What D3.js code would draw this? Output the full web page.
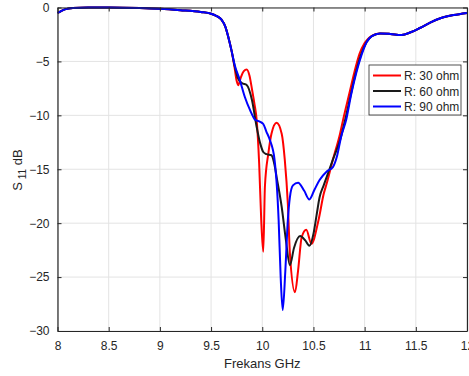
<!DOCTYPE html>
<html>
<head>
<meta charset="utf-8">
<script src="https://cdn.jsdelivr.net/npm/d3@7"></script>
<style>
  body { margin: 0; background: #fff; }
  svg { display: block; font-family: "Liberation Sans", Arial, sans-serif; }
</style>
</head>
<body>
<svg id="chart" width="469" height="376"></svg>
<script>
// frequency (GHz) and S11 (dB)
let freqLow = [8.0, 8.03, 8.08, 8.15, 8.3, 8.5, 8.8, 9.0, 9.2, 9.4, 9.5, 9.55, 9.6, 9.64, 9.67, 9.7];
let s11Low = [-0.5, -0.35, -0.15, -0.05, 0, 0, -0.05, -0.12, -0.25, -0.42, -0.58, -0.78, -1.1, -1.8, -2.8, -4.0];

let freqRed = [9.73, 9.75, 9.765, 9.79, 9.82, 9.848, 9.875, 9.9, 9.925, 9.945, 9.97, 9.99, 10.01, 10.026, 10.06, 10.09, 10.14, 10.19, 10.22, 10.25, 10.27, 10.32, 10.35, 10.385, 10.43, 10.48, 10.55, 10.6, 10.63, 10.69, 10.76, 10.79, 10.85, 10.9, 10.95, 11.0, 11.05, 11.1];
let s11Red = [-5.6, -6.8, -7.2, -6.5, -5.9, -5.74, -6.3, -7.6, -9.0, -10.4, -14.5, -19.7, -22.65, -16.6, -13.5, -11.7, -10.69, -11.7, -14.1, -18.2, -22.8, -26.4, -24.4, -21.3, -20.6, -21.9, -19.7, -17.3, -16.3, -14.1, -11.7, -10.4, -8.0, -6.0, -4.3, -3.3, -2.75, -2.5];

let freqBlack = [9.73, 9.76, 9.8, 9.85, 9.9, 9.945, 9.98, 10.01, 10.04, 10.09, 10.12, 10.14, 10.19, 10.23, 10.27, 10.31, 10.37, 10.42, 10.46, 10.5, 10.53, 10.56, 10.6, 10.63, 10.69, 10.76, 10.81, 10.86, 10.91, 10.96, 11.02, 11.07];
let s11Black = [-5.4, -6.5, -7.0, -7.2, -8.6, -11.06, -12.6, -13.4, -13.6, -13.7, -14.6, -15.7, -18.5, -21.5, -23.9, -22.3, -21.2, -21.6, -22.1, -21.0, -19.3, -17.6, -16.5, -15.7, -14.1, -12.3, -10.4, -8.3, -6.2, -4.5, -3.2, -2.65];

let freqBlue = [9.73, 9.78, 9.83, 9.88, 9.93, 9.98, 10.01, 10.04, 10.075, 10.12, 10.16, 10.18, 10.2, 10.225, 10.25, 10.27, 10.3, 10.35, 10.41, 10.46, 10.51, 10.56, 10.63, 10.69, 10.73, 10.77, 10.82, 10.87, 10.92, 10.97, 11.02, 11.07];
let s11Blue = [-5.3, -6.7, -8.3, -9.5, -10.4, -10.6, -10.8, -11.5, -12.3, -14.1, -19.7, -25.0, -28.06, -24.5, -19.7, -17.6, -16.5, -16.25, -17.0, -17.8, -16.9, -16.0, -15.2, -14.8, -13.8, -12.0, -10.4, -8.0, -6.0, -4.4, -3.2, -2.65];

let freqHigh = [11.15, 11.25, 11.36, 11.45, 11.54, 11.64, 11.74, 11.87, 12.0];
let s11High = [-2.4, -2.45, -2.55, -2.3, -1.9, -1.4, -1.0, -0.7, -0.5];

let seriesNames = ['R: 30 ohm', 'R: 60 ohm', 'R: 90 ohm'];
let seriesColors = ['#ff0000', '#1a1a1a', '#0000ff'];
let xTicks = [8, 8.5, 9, 9.5, 10, 10.5, 11, 11.5, 12];
let yTicks = [0, -5, -10, -15, -20, -25, -30];

function buildSeries(f, s) {
    let fx = freqLow.concat(f, freqHigh);
    let sy = s11Low.concat(s, s11High);
    return fx.map(function(d, i) { return [d, sy[i]]; });
}
let series = [
    buildSeries(freqRed, s11Red),
    buildSeries(freqBlack, s11Black),
    buildSeries(freqBlue, s11Blue)
];

let pLeft = 57.5, pRight = 467, pTop = 7.5, pBottom = 331;
let svg = d3.select('#chart');
let x = d3.scaleLinear().domain([8, 12]).range([pLeft, pRight]);
let y = d3.scaleLinear().domain([-30, 0]).range([pBottom, pTop]);
let axisColor = '#262626';

// grid
let grid = svg.append('g').attr('stroke', '#e3e3e3').attr('stroke-width', 1);
xTicks.forEach(function(t) {
    grid.append('line').attr('x1', x(t)).attr('x2', x(t)).attr('y1', pTop).attr('y2', pBottom);
});
yTicks.forEach(function(t) {
    grid.append('line').attr('x1', pLeft).attr('x2', pRight).attr('y1', y(t)).attr('y2', y(t));
});

// curves
let line = d3.line().x(function(d) { return x(d[0]); }).y(function(d) { return y(d[1]); }).curve(d3.curveMonotoneX);
let plot = svg.append('g');
series.forEach(function(d, i) {
    plot.append('path').datum(d)
        .attr('d', line)
        .attr('fill', 'none')
        .attr('stroke', seriesColors[i])
        .attr('stroke-width', 2);
});

// axes (box with inward ticks)
let xAxis = d3.axisBottom(x).tickValues(xTicks).tickSizeInner(-4).tickSizeOuter(0).tickPadding(10).tickFormat(d3.format('~g'));
let yAxis = d3.axisLeft(y).tickValues(yTicks).tickSizeInner(-4).tickSizeOuter(0).tickPadding(8).tickFormat(d3.format('~g'));
let gx = svg.append('g').attr('transform', 'translate(0,' + pBottom + ')').call(xAxis);
let gy = svg.append('g').attr('transform', 'translate(' + pLeft + ',0)').call(yAxis);
let gxTop = svg.append('g').attr('transform', 'translate(0,' + pTop + ')').call(d3.axisTop(x).tickValues(xTicks).tickSizeInner(-4).tickSizeOuter(0).tickFormat(''));
let gyRight = svg.append('g').attr('transform', 'translate(' + pRight + ',0)').call(d3.axisRight(y).tickValues(yTicks).tickSizeInner(-4).tickSizeOuter(0).tickFormat(''));
[gx, gy, gxTop, gyRight].forEach(function(g) {
    g.select('.domain').attr('stroke', axisColor).attr('stroke-width', 1.2);
    g.selectAll('.tick line').attr('stroke', axisColor);
    g.selectAll('.tick text').attr('fill', axisColor).style('font-size', '12px').style('font-family', '"Liberation Sans", Arial, sans-serif');
});

// axis labels
svg.append('text')
    .attr('x', (pLeft + pRight) / 2).attr('y', 368)
    .attr('text-anchor', 'middle').attr('fill', axisColor).style('font-size', '13px')
    .text('Frekans GHz');
let yl = svg.append('text')
    .attr('transform', 'translate(22,170) rotate(-90)')
    .attr('text-anchor', 'middle').attr('fill', axisColor).style('font-size', '13px');
yl.append('tspan').text('S');
yl.append('tspan').attr('dy', 4).style('font-size', '10px').text(' 11');
yl.append('tspan').attr('dy', -4).text(' dB');

// legend
let lg = svg.append('g').attr('transform', 'translate(369,65)');
lg.append('rect').attr('width', 92).attr('height', 50).attr('fill', '#fff').attr('stroke', axisColor).attr('stroke-width', 0.8);
seriesNames.forEach(function(name, i) {
    let yy = 10.5 + i * 15.5;
    lg.append('line').attr('x1', 4).attr('x2', 32).attr('y1', yy).attr('y2', yy).attr('stroke', seriesColors[i]).attr('stroke-width', 2);
    lg.append('text').attr('x', 35).attr('y', yy + 4.5).attr('fill', axisColor).style('font-size', '12px').text(name);
});
</script>
</body>
</html>
